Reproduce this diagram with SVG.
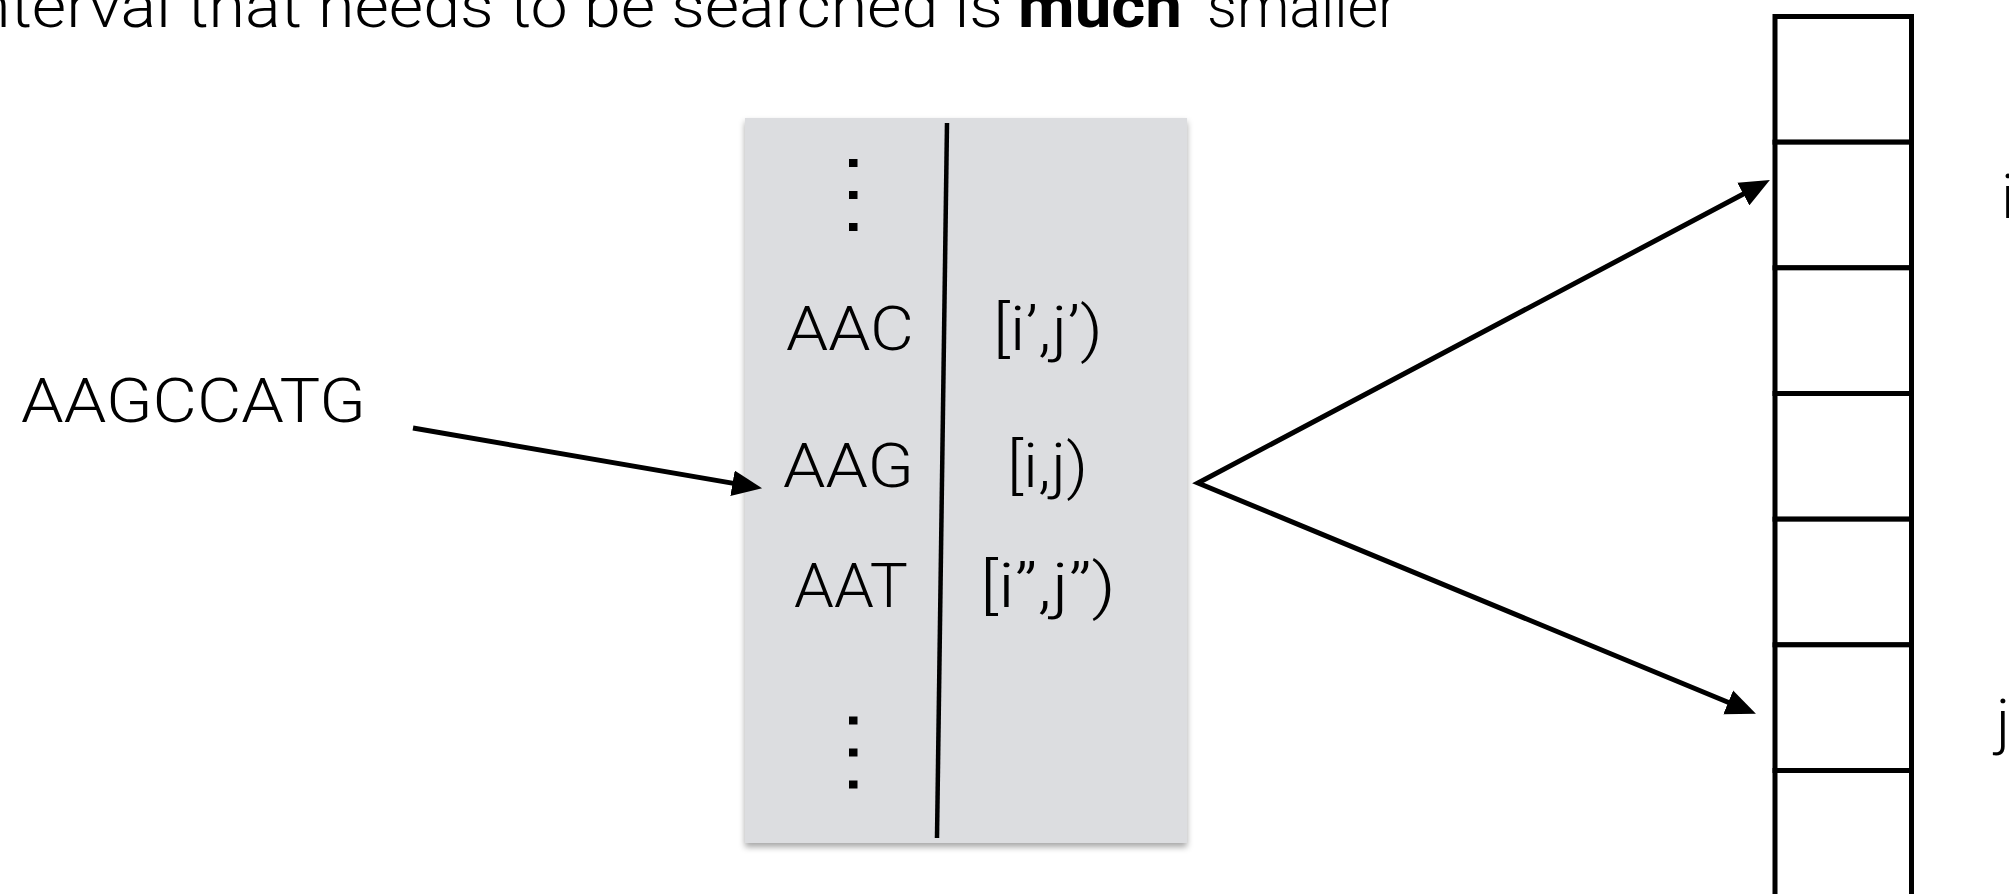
<svg xmlns="http://www.w3.org/2000/svg" width="2009" height="894" viewBox="0 0 2009 894">
<style>
.t{font-family:"Roboto","Liberation Sans",sans-serif;font-weight:300;font-size:62px;fill:#000}
.b{font-family:"Roboto","Liberation Sans",sans-serif;font-weight:700;font-size:62px;fill:#000}
.ln{fill:none;stroke:#000;stroke-width:5}
.cell{fill:#fff;stroke:#000;stroke-width:5}
.dot{fill:#000}
</style>
<defs>
<marker id="ah" markerUnits="userSpaceOnUse" markerWidth="30" markerHeight="26" viewBox="0 0 28 24" refX="12" refY="12" orient="auto-start-reverse">
<path d="M0,0 L28,12 L0,24 z" fill="#000"/>
</marker>
<filter id="sh" x="-5%" y="-5%" width="110%" height="110%">
<feDropShadow dx="0" dy="4" stdDeviation="3" flood-color="#000" flood-opacity="0.35"/>
</filter>
</defs>
<rect width="2009" height="894" fill="#fff"/>

<g id="title">
<text class="t" x="-26" y="27" textLength="1029" lengthAdjust="spacingAndGlyphs">nterval that needs to be searched is</text>
<text class="b" x="1018" y="27" textLength="164" lengthAdjust="spacingAndGlyphs">much</text>
<text class="t" x="1207" y="27" textLength="191" lengthAdjust="spacingAndGlyphs">smaller</text>
</g>

<g id="query">
<text class="t" x="21" y="422" textLength="345" lengthAdjust="spacingAndGlyphs">AAGCCATG</text>
</g>

<g id="table">
<rect x="745" y="118" width="442" height="725" fill="#dcdde0" filter="url(#sh)"/>
<line x1="947" y1="123" x2="937" y2="838" stroke="#000" stroke-width="4.5"/>
<rect class="dot" x="849" y="159" width="8.5" height="8"/>
<rect class="dot" x="849" y="191" width="8.5" height="8"/>
<rect class="dot" x="849" y="223" width="8.5" height="8"/>
<rect class="dot" x="849" y="716.5" width="8.5" height="8"/>
<rect class="dot" x="849" y="748.5" width="8.5" height="8"/>
<rect class="dot" x="849" y="780.5" width="8.5" height="8"/>
<text class="t" x="786" y="350" textLength="128" lengthAdjust="spacingAndGlyphs">AAC</text>
<text class="t" x="993" y="350" textLength="110" lengthAdjust="spacingAndGlyphs">[i’,j’)</text>
<text class="t" x="783" y="487" textLength="131" lengthAdjust="spacingAndGlyphs">AAG</text>
<text class="t" x="1007" y="487" textLength="81" lengthAdjust="spacingAndGlyphs">[i,j)</text>
<text class="t" x="794" y="607" textLength="114" lengthAdjust="spacingAndGlyphs">AAT</text>
<text class="t" x="980" y="607" textLength="136" lengthAdjust="spacingAndGlyphs">[i’’,j’’)</text>
</g>

<g id="array">
<rect class="cell" x="1775" y="16.5" width="136.5" height="125.67"/>
<rect class="cell" x="1775" y="142.17" width="136.5" height="125.67"/>
<rect class="cell" x="1775" y="267.83" width="136.5" height="125.67"/>
<rect class="cell" x="1775" y="393.5" width="136.5" height="125.67"/>
<rect class="cell" x="1775" y="519.17" width="136.5" height="125.67"/>
<rect class="cell" x="1775" y="644.83" width="136.5" height="125.67"/>
<rect class="cell" x="1775" y="770.5" width="136.5" height="140"/>
</g>

<g id="labels">
<text class="t" x="2001" y="218">i</text>
<text class="t" x="1996" y="743">j</text>
</g>

<g id="connectors">
<path class="ln" d="M413,428 L745.2,485.4" marker-end="url(#ah)"/>
<path class="ln" d="M1754.7,188 L1198,483 L1740.1,707.3" marker-start="url(#ah)" marker-end="url(#ah)"/>
</g>
</svg>
